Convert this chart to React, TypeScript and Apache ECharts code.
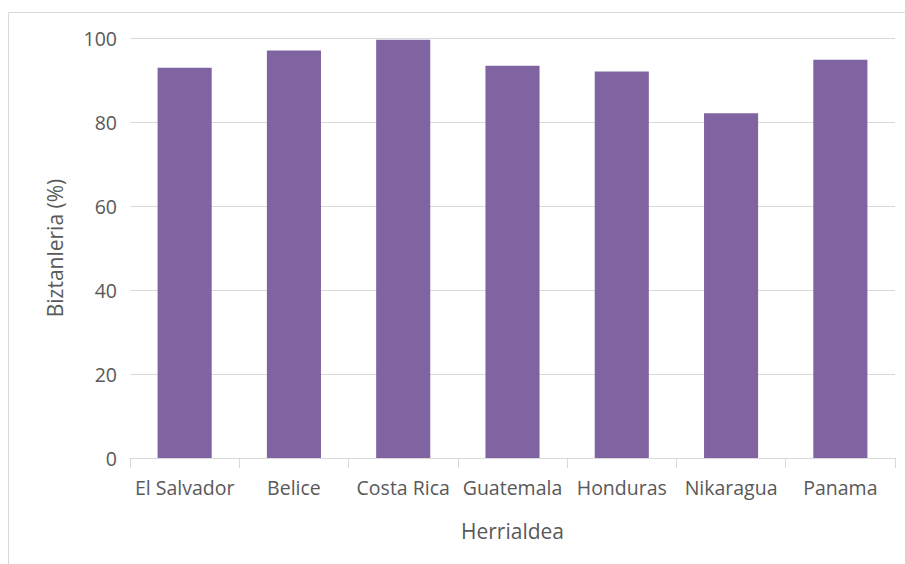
import React, { useEffect, useRef } from "react";
import * as echarts from "echarts";

const categories = ["El Salvador", "Belice", "Costa Rica", "Guatemala", "Honduras", "Nikaragua", "Panama"];
const values = [92.9, 97.0, 99.6, 93.4, 92.0, 82.1, 94.8];
const yTicks = [0, 20, 40, 60, 80, 100];

const FONT = "'Open Sans', 'Noto Sans', sans-serif";
const TEXT = "#595959";

export default function App() {
  const ref = useRef<HTMLDivElement>(null);
  useEffect(() => {
    if (!ref.current) return;
    const chart = echarts.init(ref.current, null, { renderer: "svg" });
    chart.setOption({
      animation: false,
      backgroundColor: "#ffffff",
      textStyle: { fontFamily: FONT },
      graphic: [
        {
          type: "rect",
          shape: { x: 8.5, y: 12.5, width: 910, height: 570 },
          style: { fill: "none", stroke: "#d9d9d9", lineWidth: 1 },
          silent: true,
        },
      ],
      grid: { left: 130, right: 10, top: 38, bottom: 106, containLabel: false },
      xAxis: {
        type: "category",
        data: categories,
        name: "Herrialdea",
        nameLocation: "middle",
        nameGap: 62,
        nameTextStyle: { color: TEXT, fontSize: 21, fontFamily: FONT },
        axisLine: { show: true, lineStyle: { color: "#d9d9d9", width: 1 } },
        axisTick: { show: true, length: 10, lineStyle: { color: "#d9d9d9" } },
        axisLabel: { color: TEXT, fontSize: 19.5, margin: 19, interval: 0, fontFamily: FONT },
      },
      yAxis: {
        type: "value",
        min: yTicks[0],
        max: yTicks[yTicks.length - 1],
        interval: 20,
        name: "Biztanleria (%)",
        nameLocation: "middle",
        nameGap: 65,
        nameTextStyle: { color: TEXT, fontSize: 21, fontFamily: FONT },
        axisLine: { show: false },
        axisTick: { show: false },
        axisLabel: { color: TEXT, fontSize: 19.5, margin: 13, fontFamily: FONT },
        splitLine: { lineStyle: { color: "#d9d9d9", width: 1 } },
      },
      series: [
        {
          type: "bar",
          data: values,
          barWidth: "49.5%",
          itemStyle: { color: "#8064A2" },
        },
      ],
    });
    return () => chart.dispose();
  }, []);
  return (
    <div
      ref={ref}
      style={{ position: "absolute", left: 0, top: 0, width: 905, height: 564 }}
    />
  );
}
